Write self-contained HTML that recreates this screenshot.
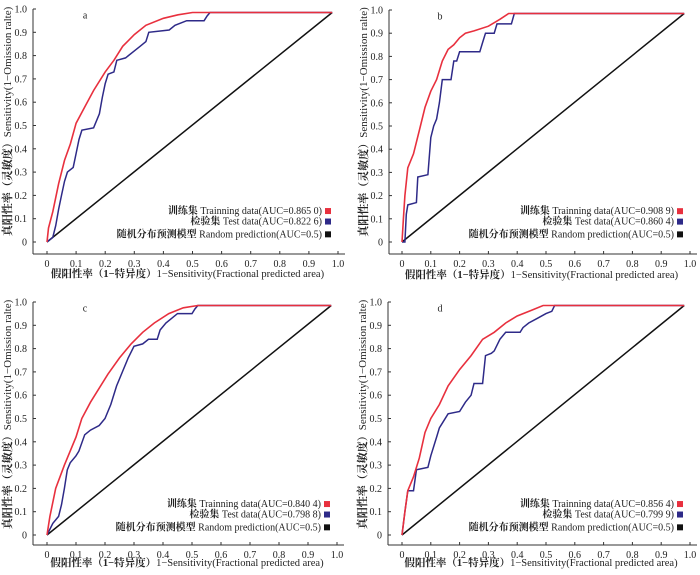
<!DOCTYPE html>
<html><head><meta charset="utf-8"><style>
html,body{margin:0;padding:0;background:#fff;}
svg{display:block;font-family:"Liberation Serif","Noto Serif CJK SC",serif;}
</style></head><body>
<svg id="chart" width="700" height="575" viewBox="0 0 700 575"></svg>
<script>
const panelLabels = ["a","b","c","d"];
const trainAUC = ["0.865 0","0.908 9","0.840 4","0.856 4"];
const testAUC = ["0.822 6","0.860 4","0.798 8","0.799 9"];
const xTicks = ["0","0.1","0.2","0.3","0.4","0.5","0.6","0.7","0.8","0.9","1.0"];
const yTicks = ["0","0.1","0.2","0.3","0.4","0.5","0.6","0.7","0.8","0.9","1.0"];
const randomLine = [[0,0],[0.98,0.985]];
const trainA = [[0,0],[0.005,0.06],[0.02,0.13],[0.04,0.25],[0.06,0.35],[0.08,0.42],[0.1,0.51],[0.13,0.58],[0.16,0.65],[0.2,0.73],[0.23,0.78],[0.26,0.84],[0.3,0.89],[0.34,0.93],[0.4,0.96],[0.45,0.975],[0.5,0.985],[0.98,0.985]];
const testA = [[0,0],[0.02,0.02],[0.03,0.07],[0.04,0.14],[0.05,0.2],[0.06,0.26],[0.07,0.3],[0.09,0.32],[0.1,0.38],[0.11,0.44],[0.12,0.48],[0.16,0.49],[0.18,0.55],[0.19,0.62],[0.2,0.68],[0.21,0.72],[0.23,0.73],[0.24,0.78],[0.27,0.79],[0.3,0.82],[0.32,0.84],[0.34,0.86],[0.35,0.9],[0.42,0.91],[0.44,0.93],[0.48,0.95],[0.54,0.95],[0.55,0.97],[0.56,0.985],[0.98,0.985]];
const trainB = [[0,0],[0.005,0.1],[0.01,0.2],[0.02,0.32],[0.04,0.38],[0.06,0.48],[0.08,0.58],[0.1,0.65],[0.12,0.7],[0.14,0.78],[0.16,0.83],[0.18,0.85],[0.2,0.88],[0.22,0.9],[0.25,0.91],[0.3,0.93],[0.34,0.96],[0.37,0.985],[0.98,0.985]];
const testB = [[0,0],[0.01,0],[0.015,0.12],[0.02,0.16],[0.05,0.17],[0.055,0.28],[0.09,0.29],[0.1,0.45],[0.11,0.5],[0.12,0.53],[0.13,0.6],[0.14,0.7],[0.17,0.7],[0.18,0.78],[0.19,0.78],[0.2,0.82],[0.27,0.82],[0.28,0.86],[0.29,0.9],[0.32,0.9],[0.33,0.94],[0.38,0.94],[0.39,0.985],[0.98,0.985]];
const trainC = [[0,0],[0.01,0.08],[0.03,0.2],[0.06,0.3],[0.08,0.36],[0.1,0.42],[0.12,0.5],[0.15,0.57],[0.18,0.63],[0.21,0.69],[0.25,0.76],[0.29,0.82],[0.33,0.87],[0.37,0.91],[0.42,0.95],[0.47,0.975],[0.52,0.985],[0.98,0.985]];
const testC = [[0,0],[0.02,0.05],[0.04,0.08],[0.05,0.13],[0.06,0.2],[0.07,0.28],[0.08,0.31],[0.1,0.34],[0.11,0.36],[0.13,0.43],[0.15,0.45],[0.18,0.47],[0.2,0.5],[0.22,0.56],[0.24,0.64],[0.26,0.7],[0.28,0.76],[0.3,0.81],[0.33,0.82],[0.35,0.84],[0.38,0.84],[0.39,0.88],[0.41,0.91],[0.43,0.93],[0.45,0.95],[0.5,0.95],[0.51,0.97],[0.52,0.985],[0.98,0.985]];
const trainD = [[0,0],[0.01,0.1],[0.02,0.19],[0.04,0.25],[0.06,0.33],[0.08,0.44],[0.1,0.5],[0.13,0.56],[0.16,0.64],[0.2,0.71],[0.24,0.77],[0.28,0.84],[0.32,0.87],[0.36,0.91],[0.4,0.94],[0.45,0.965],[0.49,0.985],[0.98,0.985]];
const testD = [[0,0],[0.01,0.1],[0.02,0.19],[0.04,0.19],[0.05,0.28],[0.09,0.29],[0.1,0.34],[0.12,0.42],[0.13,0.46],[0.14,0.48],[0.16,0.52],[0.2,0.53],[0.22,0.57],[0.24,0.6],[0.25,0.65],[0.28,0.65],[0.29,0.77],[0.31,0.78],[0.32,0.79],[0.34,0.84],[0.36,0.87],[0.41,0.87],[0.42,0.89],[0.44,0.91],[0.47,0.93],[0.5,0.95],[0.52,0.96],[0.53,0.985],[0.98,0.985]];
const trainSeries = [trainA,trainB,trainC,trainD];
const testSeries = [testA,testB,testC,testD];

const NS="http://www.w3.org/2000/svg";
const svg=document.getElementById('chart');
function mk(tag,attrs,parent){const e=document.createElementNS(NS,tag);for(const k in attrs)e.setAttribute(k,attrs[k]);(parent||svg).appendChild(e);return e;}
function addParts(el,cjk,latin){
 const a=mk('tspan',{'font-weight':'bold'},el);a.textContent=cjk;
 const b=mk('tspan',{},el);b.textContent=latin;
}
const geoms=[
 {ax:33,x0:47,x1:338,y1:9,y0:242,by:254,tx:277},
 {ax:389,x0:402,x1:690,y1:10,y0:242,by:254,tx:278},
 {ax:33,x0:47,x1:337,y1:302,y0:535,by:545,tx:566},
 {ax:388,x0:402,x1:690,y1:302,y0:535,by:545,tx:566}
];
geoms.forEach((g,i)=>{
 const grp=mk('g',{});
 
 
 const sx=v=>g.x0+v*(g.x1-g.x0);
 const sy=v=>g.y0-v*(g.y0-g.y1);
 const ya=mk('line',{x1:g.ax,y1:g.y1,x2:g.ax,y2:g.by,stroke:'#333','stroke-width':1},grp);
 
 
 const xa=mk('line',{x1:g.ax,y1:g.by,x2:g.x1+7,y2:g.by,stroke:'#333','stroke-width':1},grp);
 
 
 yTicks.forEach(t=>{const v=parseFloat(t);const y=sy(v);
  mk('line',{x1:g.ax,y1:y,x2:g.ax+3,y2:y,stroke:'#333'},grp);
  const tl=mk('text',{x:g.ax-6,y:y+3.5,'font-size':10,'text-anchor':'end',fill:'#222'},grp);tl.textContent=t;
  
  
 });
 xTicks.forEach(t=>{const v=parseFloat(t);const x=sx(v);
  mk('line',{x1:x,y1:g.by,x2:x,y2:g.by-3,stroke:'#333'},grp);
  const tl=mk('text',{x:x,y:g.by+13,'font-size':10,'text-anchor':'middle',fill:'#222'},grp);tl.textContent=t;
  
  
 });
 const xt=mk('text',{x:(g.ax+g.x1)/2+2,y:g.tx,'font-size':10.5,'text-anchor':'middle',fill:'#222'},grp);
 addParts(xt,'假阳性率（1−特异度）','1−Sensitivity(Fractional predicted area)');
 
 
 const cy=(g.y0+g.y1)/2-4;const cx=g.ax-22;
 const yt=mk('text',{x:cx,y:cy,'font-size':11,'text-anchor':'middle',fill:'#222',transform:`rotate(-90 ${cx} ${cy})`},grp);
 addParts(yt,'真阳性率（灵敏度）','Sensitivity(1−Omission ralte)');
 
 
 const pl=mk('text',{x:sx(0.13)-2,y:sy(0.96),'font-size':10,fill:'#222'},grp);pl.textContent=panelLabels[i];
 
 
 const pts=arr=>arr.map(p=>sx(p[0]).toFixed(1)+','+sy(p[1]).toFixed(1)).join(' ');
 const rl=mk('polyline',{points:pts(randomLine),fill:'none',stroke:'#111','stroke-width':1.5},grp);
 
 
 const te=mk('polyline',{points:pts(testSeries[i]),fill:'none',stroke:'#2e2a88','stroke-width':1.5},grp);
 
 
 const tr=mk('polyline',{points:pts(trainSeries[i]),fill:'none',stroke:'#e8303e','stroke-width':1.6},grp);
 
 
 const lx=g.x1-16, ly=[sy(0.135),sy(0.09),sy(0.035)];
 const cjk=['训练集 ','检验集 ','随机分布预测模型 '];
 const lat=['Trainning data(AUC='+trainAUC[i]+')','Test data(AUC='+testAUC[i]+')','Random prediction(AUC=0.5)'];
 const cols=['#e8303e','#2e2a88','#111'];
 const names=['legend-training','legend-test','legend-random'];
 cjk.forEach((s,k)=>{
  const t=mk('text',{x:lx,y:ly[k]+3.5,'font-size':10,'text-anchor':'end',fill:'#222'},grp);
  addParts(t,s,lat[k]);
  
  
  const r=mk('rect',{x:lx+3,y:ly[k]-2.5,width:6,height:6,fill:cols[k]},grp);
  
  
 });
});
</script>
</body></html>
